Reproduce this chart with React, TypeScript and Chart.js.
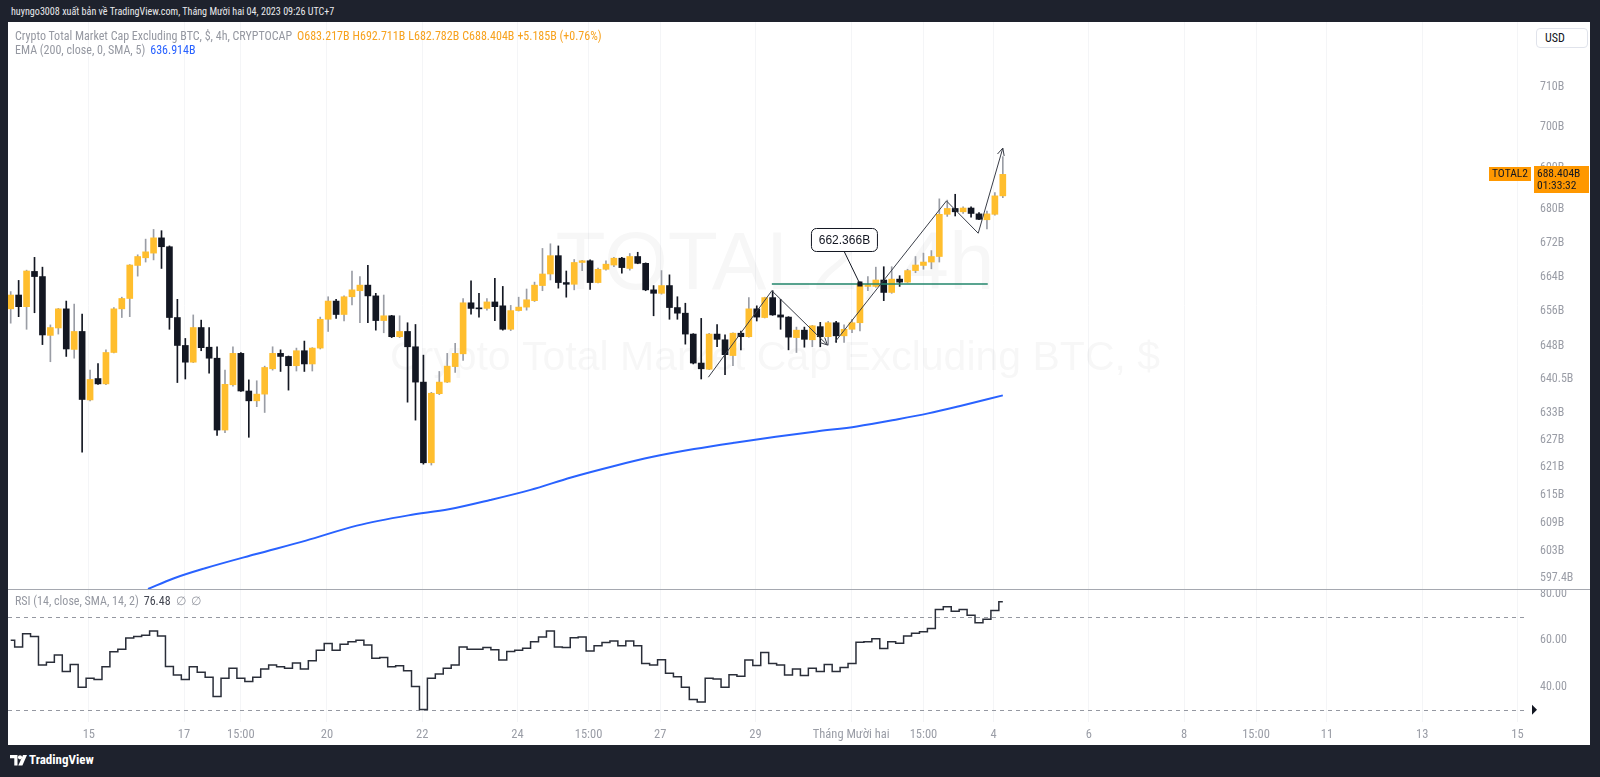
import React, { useEffect, useRef } from 'react';
import { Chart, registerables } from 'chart.js';
Chart.register(...registerables);

// ---------- DATA (4h candles, billions USD) ----------
const opens = [
  656.6, 659.8, 657.1, 665.3, 664.1, 650.5, 652.2, 656.6, 647.3, 651.4,
  635.9, 640.7, 639.5, 646.6, 656.6, 659.0, 666.7, 668.5, 669.6, 673.2,
  671.1, 654.6, 648.2, 644.4, 652.3, 647.8, 645.3, 629.2, 639.3, 646.4,
  637.9, 635.7, 637.2, 642.9, 646.4, 645.7, 643.6, 647.0, 644.0, 647.6,
  654.2, 658.4, 655.3, 659.4, 660.8, 662.1, 659.6, 653.9, 655.0, 650.2,
  651.4, 647.9, 639.9, 622.0, 637.3, 639.9, 643.4, 646.3, 658.0, 656.8,
  656.7, 658.2, 657.3, 651.9, 656.2, 657.0, 658.5, 662.0, 664.7, 669.0,
  662.7, 662.3, 667.4, 667.8, 662.7, 665.8, 666.8, 668.4, 666.0, 668.8,
  667.2, 661.0, 660.2, 662.0, 656.9, 655.6, 650.8, 644.2, 642.8, 650.8,
  649.5, 645.9, 651.0, 650.2, 656.6, 654.6, 659.2, 655.2, 654.7, 650.0,
  651.7, 649.5, 652.5, 650.2, 653.4, 650.4, 651.9, 653.4, 661.8, 661.8,
  663.3, 660.4, 663.5, 662.8, 665.5, 666.7, 667.5, 668.8, 678.8, 680.2,
  679.4, 680.3, 678.9, 677.5, 678.8, 683.217,
];
const highs = [
  660.6, 663.2, 665.6, 668.6, 666.3, 652.9, 656.7, 658.4, 657.7, 655.4,
  642.6, 644.1, 647.2, 656.9, 659.3, 666.9, 669.2, 672.9, 675.2, 674.9,
  671.3, 658.8, 649.8, 655.2, 654.0, 652.3, 647.9, 642.6, 647.9, 646.6,
  640.4, 640.2, 643.5, 647.9, 647.2, 645.8, 647.6, 649.2, 647.7, 654.7,
  659.4, 658.8, 659.6, 665.4, 664.1, 666.7, 660.2, 659.8, 655.1, 655.0,
  653.4, 653.0, 646.0, 637.6, 642.3, 646.4, 648.7, 659.0, 663.1, 660.2,
  659.0, 663.7, 661.8, 657.4, 659.3, 661.2, 662.8, 670.7, 671.8, 671.3,
  665.4, 668.1, 667.9, 668.0, 666.1, 667.8, 668.6, 668.6, 669.5, 669.8,
  667.3, 662.0, 665.5, 664.5, 659.4, 657.9, 650.9, 654.4, 651.0, 653.0,
  650.6, 651.1, 651.5, 659.2, 657.3, 659.3, 660.8, 658.8, 654.8, 652.4,
  652.4, 652.8, 653.5, 653.7, 653.7, 652.9, 654.2, 662.9, 664.1, 666.3,
  666.4, 666.4, 664.3, 665.8, 668.8, 669.6, 670.2, 682.5, 682.2, 683.6,
  680.6, 680.6, 679.2, 679.6, 684.0, 692.711,
];
const lows = [
  653.3, 654.8, 651.9, 655.7, 648.4, 644.5, 650.8, 645.7, 645.3, 624.3,
  635.7, 639.4, 639.3, 646.5, 654.6, 654.8, 664.2, 667.5, 668.0, 666.0,
  651.9, 639.8, 640.6, 644.3, 647.0, 641.9, 628.0, 628.6, 639.0, 637.8,
  627.6, 634.4, 633.1, 642.6, 642.3, 638.1, 642.4, 642.3, 642.4, 647.4,
  651.4, 654.4, 653.8, 657.5, 653.4, 653.4, 651.7, 651.1, 650.0, 650.0,
  635.4, 631.4, 621.7, 621.5, 637.1, 639.8, 642.1, 644.8, 655.4, 654.7,
  656.3, 653.9, 651.7, 651.6, 656.1, 656.3, 658.3, 660.8, 663.3, 661.4,
  659.3, 661.0, 665.5, 661.1, 662.6, 665.6, 666.4, 664.9, 665.6, 667.1,
  660.8, 655.0, 660.0, 654.2, 654.2, 648.5, 644.0, 640.6, 642.7, 647.9,
  641.6, 643.6, 647.2, 650.1, 653.8, 654.5, 655.1, 651.9, 647.2, 646.6,
  647.8, 647.9, 647.9, 648.3, 648.9, 648.9, 651.1, 651.5, 660.8, 661.6,
  658.5, 660.2, 661.8, 662.7, 665.0, 665.8, 665.9, 667.5, 678.3, 678.4,
  679.0, 678.1, 677.5, 675.3, 678.6, 682.782,
];
const closes = [
  659.8, 657.1, 665.4, 664.1, 650.6, 652.3, 656.6, 647.4, 651.4, 636.0,
  640.5, 639.5, 646.6, 656.6, 659.0, 666.8, 668.8, 669.9, 673.2, 671.1,
  654.6, 648.2, 644.4, 652.3, 647.7, 645.3, 629.2, 639.4, 646.4, 637.9,
  635.7, 637.2, 643.2, 646.4, 645.7, 643.6, 647.0, 644.0, 647.6, 654.2,
  658.4, 655.3, 659.4, 661.0, 662.1, 659.6, 653.9, 655.0, 650.2, 651.4,
  647.9, 639.9, 622.0, 637.4, 639.9, 643.5, 646.4, 658.0, 656.7, 656.6,
  658.2, 657.1, 651.9, 656.2, 657.0, 658.7, 662.1, 664.7, 669.0, 662.7,
  662.3, 667.4, 667.8, 662.7, 665.8, 667.0, 668.4, 666.2, 668.8, 667.2,
  661.0, 660.2, 662.0, 656.9, 655.6, 650.8, 644.2, 642.9, 650.8, 649.6,
  646.1, 651.0, 650.2, 656.6, 654.7, 659.2, 655.2, 654.7, 650.1, 651.7,
  649.6, 652.7, 650.2, 653.4, 650.4, 651.9, 653.4, 662.4, 662.2, 663.3,
  660.4, 663.5, 662.8, 665.5, 666.8, 667.5, 668.8, 678.8, 680.2, 679.4,
  680.3, 679.0, 677.6, 678.9, 683.219, 688.404,
];
const rsiValues = [
  59.9, 57.0, 62.7, 61.5, 49.2, 50.4, 53.5, 46.4, 49.5, 39.7,
  43.5, 43.0, 48.5, 54.9, 56.0, 60.9, 61.5, 62.0, 63.9, 61.7,
  48.6, 44.9, 43.0, 48.5, 46.1, 44.0, 35.7, 43.5, 47.8, 43.5,
  42.1, 44.0, 47.5, 49.2, 48.5, 47.8, 50.1, 47.5, 51.1, 55.6,
  58.5, 55.6, 58.2, 59.2, 59.9, 57.8, 52.2, 52.5, 48.5, 48.9,
  46.8, 40.0, 30.1, 43.5, 45.4, 47.8, 49.2, 57.0, 56.0, 56.0,
  56.8, 55.8, 51.4, 55.1, 55.6, 56.5, 59.3, 61.3, 63.9, 57.0,
  56.8, 61.0, 61.3, 55.3, 57.5, 58.9, 59.6, 57.5, 59.6, 57.5,
  49.9, 49.2, 51.5, 45.7, 44.2, 39.7, 34.4, 33.3, 43.5, 43.2,
  39.7, 45.1, 44.4, 51.4, 49.0, 54.6, 49.9, 49.2, 44.9, 47.5,
  44.7, 47.8, 46.4, 49.5, 46.4, 48.2, 49.9, 59.0, 59.2, 60.5,
  56.3, 59.3, 58.6, 61.7, 62.9, 63.6, 64.9, 73.1, 74.3, 72.4,
  73.1, 70.7, 67.4, 68.9, 72.7, 76.48,
];
// EMA(200) read at selected candle positions
const emaIndex = [17.3, 20.5, 24.4, 30.8, 37.2, 43.6, 50.1, 55.2, 60.4, 65.5, 70.6, 75.8, 80.9, 86.1, 91.2, 96.4, 101.5, 106.6, 111.8, 115.6, 119.5, 125];
const emaValues = [595.0, 597.2, 599.3, 602.3, 605.2, 608.4, 610.6, 611.9, 613.9, 616.1, 618.8, 621.2, 623.3, 625.0, 626.4, 627.7, 628.9, 630.0, 631.6, 632.9, 634.5, 636.914];

const priceTicks = [710, 700, 690, 680, 672, 664, 656, 648, 640.5, 633, 627, 621, 615, 609, 603, 597.4];
const rsiTicks = [80, 60, 40];
const rsiLevels = [70, 30];
const timeTickPos = [9.84, 21.84, 29.0, 39.84, 51.84, 63.84, 72.8, 81.84, 93.84, 105.9, 115.0, 123.84, 135.84, 147.84, 156.9, 165.84, 177.84, 189.84];
const timeTickLabels = ['15', '17', '15:00', '20', '22', '24', '15:00', '27', '29', 'Tháng Mười hai', '15:00', '4', '6', '8', '15:00', '11', '13', '15'];

// drawings
const zig1Idx = [87.9, 95.9, 102.9];
const zig1Val = [641.0, 660.8, 648.3];
const zig2Idx = [103.9, 117.9, 121.9, 125.0];
const zig2Val = [649.1, 682.0, 674.3, 694.8];
const levelIdx = [95.9, 123.1];
const levelValue = 662.366;
const calloutIdx = 107;
const calloutValue = 662.366;

const symbolName = 'TOTAL2';
const countdown = '01:33:32';

// ---------- STYLE ----------
const NARROW = '"Liberation Sans Narrow", "Arial Narrow", "Roboto Condensed", "Liberation Sans", Arial, sans-serif';
const SANS = '"Liberation Sans", Arial, sans-serif';
const UP = '#ffbe2e';
const DOWN = '#131722';
const WICK_UP = '#9a9da5';
const WICK_DOWN = '#131722';
const AXIS_TXT = '#9a9da6';
const DARK_BG = '#1e222d';
const X_MIN = -0.34;
const X_MAX = 191.17;
const P_MIN = 594.99;
const P_MAX = 726.3;
const R_MIN = 24.73;
const R_MAX = 81.94;

const fmt3 = (v: number) => v.toFixed(3) + 'B';

function zeroPad(s: any) {
  s.paddingTop = 0; s.paddingBottom = 0; s.paddingLeft = 0; s.paddingRight = 0;
}

function arrowHead(ctx: CanvasRenderingContext2D, x0: number, y0: number, x1: number, y1: number) {
  const a = Math.atan2(y1 - y0, x1 - x0);
  const L = 8;
  ctx.beginPath();
  ctx.moveTo(x1 - L * Math.cos(a - 0.45), y1 - L * Math.sin(a - 0.45));
  ctx.lineTo(x1, y1);
  ctx.lineTo(x1 - L * Math.cos(a + 0.45), y1 - L * Math.sin(a + 0.45));
  ctx.stroke();
}

const pricePlugin = {
  id: 'tvPrice',
  beforeDatasetsDraw(chart: any) {
    const { ctx, chartArea } = chart;
    const cx = (chartArea.left + chartArea.right) / 2 + 7;
    ctx.save();
    ctx.fillStyle = 'rgba(19,23,34,0.035)';
    ctx.textAlign = 'center';
    ctx.textBaseline = 'middle';
    ctx.font = '82px ' + SANS;
    ctx.fillText(symbolName + ', 4h', cx, 244);
    ctx.font = '41px ' + SANS;
    ctx.fillText('Crypto Total Market Cap Excluding BTC, $', cx, 337);
    ctx.restore();
  },
  afterDatasetsDraw(chart: any) {
    const { ctx } = chart;
    const xs = chart.scales.x;
    const ys = chart.scales.y;
    const X = (v: number) => xs.getPixelForValue(v);
    const Y = (v: number) => ys.getPixelForValue(v);
    ctx.save();
    // horizontal level
    ctx.strokeStyle = '#22866b';
    ctx.lineWidth = 1.5;
    ctx.beginPath();
    ctx.moveTo(X(levelIdx[0]), Y(levelValue));
    ctx.lineTo(X(levelIdx[1]), Y(levelValue));
    ctx.stroke();
    // zigzag paths
    ctx.strokeStyle = '#3a3e48';
    ctx.lineWidth = 1;
    [[zig1Idx, zig1Val], [zig2Idx, zig2Val]].forEach(([ix, iv]) => {
      ctx.beginPath();
      ix.forEach((v, k) => {
        const px = X(v), py = Y(iv[k]);
        if (k === 0) ctx.moveTo(px, py); else ctx.lineTo(px, py);
      });
      ctx.stroke();
      const n = ix.length;
      arrowHead(ctx, X(ix[n - 2]), Y(iv[n - 2]), X(ix[n - 1]), Y(iv[n - 1]));
    });
    // callout
    const ax = X(calloutIdx), ay = Y(calloutValue);
    const bw = 66, bh = 23;
    const bx = ax - 16 - bw / 2, by = ay - 33 - bh;
    ctx.strokeStyle = '#131722';
    ctx.lineWidth = 1;
    ctx.beginPath();
    ctx.moveTo(ax, ay);
    ctx.lineTo(ax - 16, ay - 33);
    ctx.stroke();
    ctx.fillStyle = '#131722';
    ctx.fillRect(ax - 2.5, ay - 2.5, 5, 5);
    ctx.beginPath();
    ctx.roundRect(bx + 0.5, by + 0.5, bw, bh, 5);
    ctx.fillStyle = '#ffffff';
    ctx.fill();
    ctx.stroke();
    ctx.fillStyle = '#131722';
    ctx.font = '12px ' + SANS;
    ctx.textAlign = 'center';
    ctx.textBaseline = 'middle';
    ctx.fillText(calloutValue.toFixed(3) + 'B', bx + bw / 2 + 0.5, by + bh / 2 + 1);
    ctx.restore();
  },
  afterDraw(chart: any) {
    const { ctx, chartArea } = chart;
    const ys = chart.scales.y;
    const last = closes[closes.length - 1];
    const py = Math.round(ys.getPixelForValue(last));
    ctx.save();
    ctx.fillStyle = '#ff9800';
    ctx.fillRect(chartArea.right - 39, py - 7, 42, 14);
    ctx.fillRect(chartArea.right + 6, py - 8, 55, 27);
    ctx.fillStyle = '#131722';
    ctx.font = '11.5px ' + NARROW;
    ctx.textBaseline = 'middle';
    ctx.textAlign = 'center';
    ctx.fillText(symbolName, chartArea.right - 18, py + 0.5);
    ctx.textAlign = 'left';
    ctx.fillText(fmt3(last), chartArea.right + 9, py);
    ctx.fillText(countdown, chartArea.right + 9, py + 12);
    ctx.restore();
  },
};

const rsiPlugin = {
  id: 'tvRsi',
  beforeDatasetsDraw(chart: any) {
    const { ctx, chartArea } = chart;
    const ys = chart.scales.y;
    ctx.save();
    ctx.strokeStyle = '#9598a1';
    ctx.lineWidth = 1;
    ctx.setLineDash([4, 4]);
    rsiLevels.forEach((lv) => {
      const y = Math.round(ys.getPixelForValue(lv)) + 0.5;
      ctx.beginPath();
      ctx.moveTo(chartArea.left, y);
      ctx.lineTo(chartArea.right, y);
      ctx.stroke();
    });
    ctx.setLineDash([]);
    const y30 = ys.getPixelForValue(rsiLevels[1]);
    ctx.fillStyle = '#131722';
    ctx.beginPath();
    ctx.moveTo(chartArea.right + 4, y30 - 5);
    ctx.lineTo(chartArea.right + 9, y30);
    ctx.lineTo(chartArea.right + 4, y30 + 5);
    ctx.closePath();
    ctx.fill();
    ctx.restore();
  },
};

export default function App() {
  const priceRef = useRef<HTMLCanvasElement>(null);
  const rsiRef = useRef<HTMLCanvasElement>(null);

  useEffect(() => {
    document.body.style.margin = '0';
    const idx = closes.map((_, i) => i);
    const isUp = idx.map((i) => closes[i] >= opens[i]);

    const xBase: any = {
      type: 'linear',
      min: X_MIN,
      max: X_MAX,
      offset: false,
      afterBuildTicks: (s: any) => { s.ticks = timeTickPos.map((v) => ({ value: v })); },
      grid: { color: '#f4f5f7', drawTicks: false, offset: false },
      border: { display: false },
    };

    const price = new Chart(priceRef.current as HTMLCanvasElement, {
      type: 'bar',
      data: {
        datasets: [
          {
            type: 'bar',
            label: 'wick',
            data: idx.map((i) => ({ x: i, y: [lows[i], highs[i]] })) as any,
            backgroundColor: idx.map((i) => (isUp[i] ? WICK_UP : WICK_DOWN)),
            barThickness: 1,
            grouped: false,
            order: 3,
            borderWidth: 0,
          } as any,
          {
            type: 'bar',
            label: 'body',
            data: idx.map((i) => ({ x: i, y: [Math.min(opens[i], closes[i]), Math.max(opens[i], closes[i])] })) as any,
            backgroundColor: idx.map((i) => (isUp[i] ? UP : DOWN)),
            barThickness: 6,
            grouped: false,
            minBarLength: 1,
            order: 2,
            borderWidth: 0,
          } as any,
          {
            type: 'line',
            label: 'EMA',
            data: emaIndex.map((x, k) => ({ x, y: emaValues[k] })) as any,
            borderColor: '#2962ff',
            borderWidth: 2,
            pointRadius: 0,
            cubicInterpolationMode: 'monotone',
            order: 1,
          } as any,
        ],
      },
      options: {
        responsive: false,
        animation: false,
        devicePixelRatio: 1,
        events: [],
        layout: { padding: 0 },
        plugins: { legend: { display: false }, tooltip: { enabled: false } },
        scales: {
          x: {
            ...xBase,
            ticks: { display: false },
            afterFit: (s: any) => { s.height = 0; zeroPad(s); },
          },
          y: {
            type: 'logarithmic',
            position: 'right',
            min: P_MIN,
            max: P_MAX,
            afterBuildTicks: (s: any) => { s.ticks = priceTicks.map((v) => ({ value: v })); },
            ticks: {
              callback: (v: any) => `${v}B`,
              color: AXIS_TXT,
              font: { family: NARROW, size: 12 },
              padding: 12,
              autoSkip: false,
            },
            grid: { display: false, drawTicks: false },
            border: { display: false },
            afterFit: (s: any) => { s.width = 62; zeroPad(s); },
          } as any,
        },
      } as any,
      plugins: [pricePlugin],
    });

    const rsi = new Chart(rsiRef.current as HTMLCanvasElement, {
      type: 'line',
      data: {
        datasets: [
          {
            label: 'RSI',
            data: idx.map((i) => ({ x: i, y: rsiValues[i] })) as any,
            borderColor: '#2a2e39',
            borderWidth: 1.5,
            pointRadius: 0,
            stepped: 'middle',
          } as any,
        ],
      },
      options: {
        responsive: false,
        animation: false,
        devicePixelRatio: 1,
        events: [],
        layout: { padding: 0 },
        plugins: { legend: { display: false }, tooltip: { enabled: false } },
        scales: {
          x: {
            ...xBase,
            ticks: {
              autoSkip: false,
              maxRotation: 0,
              padding: 5,
              color: AXIS_TXT,
              font: { family: NARROW, size: 12.5 },
              callback: (v: any) => {
                const k = timeTickPos.indexOf(v);
                return k >= 0 ? timeTickLabels[k] : '';
              },
            },
            afterFit: (s: any) => { s.height = 23; zeroPad(s); },
          },
          y: {
            type: 'linear',
            position: 'right',
            min: R_MIN,
            max: R_MAX,
            afterBuildTicks: (s: any) => { s.ticks = rsiTicks.map((v) => ({ value: v })); },
            ticks: {
              callback: (v: any) => Number(v).toFixed(2),
              color: AXIS_TXT,
              font: { family: NARROW, size: 12 },
              padding: 12,
              autoSkip: false,
            },
            grid: { display: false, drawTicks: false },
            border: { display: false },
            afterFit: (s: any) => { s.width = 62; zeroPad(s); },
          },
        },
      } as any,
      plugins: [rsiPlugin],
    });

    return () => {
      price.destroy();
      rsi.destroy();
    };
  }, []);

  const n = closes.length;
  const lastO = opens[n - 1], lastH = highs[n - 1], lastL = lows[n - 1], lastC = closes[n - 1];
  const chg = lastC - closes[n - 2];
  const pct = (chg / closes[n - 2]) * 100;
  const orange = '#f7a21e';
  const gray = '#9598a1';
  const txt: React.CSSProperties = { position: 'absolute', whiteSpace: 'nowrap', fontFamily: NARROW, lineHeight: '14px' };
  const gap: React.CSSProperties = { marginLeft: 3 };

  return (
    <div style={{ position: 'fixed', left: 0, top: 0, width: 1600, height: 777, background: DARK_BG, overflow: 'hidden' }}>
      <div style={{ ...txt, left: 11, top: 5, fontSize: 10.1, color: '#e8e9ec' }}>
        huyngo3008 xuất bản về TradingView.com, Tháng Mười hai 04, 2023 09:26 UTC+7
      </div>
      <div style={{ position: 'absolute', left: 8, top: 22, width: 1582, height: 723, background: '#ffffff' }} />
      <canvas ref={priceRef} width={1582} height={567} style={{ position: 'absolute', left: 8, top: 22, width: 1582, height: 567 }} />
      <canvas ref={rsiRef} width={1582} height={156} style={{ position: 'absolute', left: 8, top: 589, width: 1582, height: 156 }} />
      <div style={{ position: 'absolute', left: 8, top: 589, width: 1582, height: 1, background: '#a5a8b0' }} />
      <div style={{ ...txt, left: 15, top: 29, fontSize: 12, color: gray }}>
        <span>Crypto Total Market Cap Excluding BTC, $, 4h, CRYPTOCAP</span>
        <span style={{ marginLeft: 5, color: orange }}>O{lastO.toFixed(3)}B</span>
        <span style={{ ...gap, color: orange }}>H{lastH.toFixed(3)}B</span>
        <span style={{ ...gap, color: orange }}>L{lastL.toFixed(3)}B</span>
        <span style={{ ...gap, color: orange }}>C{lastC.toFixed(3)}B</span>
        <span style={{ ...gap, color: orange }}>+{chg.toFixed(3)}B (+{pct.toFixed(2)}%)</span>
      </div>
      <div style={{ ...txt, left: 15, top: 43, fontSize: 12, color: gray }}>
        <span>EMA (200, close, 0, SMA, 5)</span>
        <span style={{ marginLeft: 5, color: '#2962ff' }}>{emaValues[emaValues.length - 1].toFixed(3)}B</span>
      </div>
      <div style={{ ...txt, left: 15, top: 594, fontSize: 12, color: gray }}>
        <span>RSI (14, close, SMA, 14, 2)</span>
        <span style={{ marginLeft: 5, color: '#434651' }}>{rsiValues[n - 1].toFixed(2)}</span>
        <span style={{ marginLeft: 5 }}>∅</span>
        <span style={{ marginLeft: 5 }}>∅</span>
      </div>
      <div style={{ position: 'absolute', left: 1536, top: 28, width: 52, height: 20, border: '1px solid #e0e3eb', borderRadius: 4, background: '#fff', boxSizing: 'border-box', fontFamily: NARROW, fontSize: 12, color: '#131722', lineHeight: '18px', paddingLeft: 8 }}>
        USD
      </div>
      <svg style={{ position: 'absolute', left: 10, top: 755 }} width="17" height="11" viewBox="0 0 17 11">
        <path d="M0 0h7.5v10.5H4.3V3.2H0z" fill="#ffffff" />
        <circle cx="10" cy="2.3" r="2.1" fill="#ffffff" />
        <path d="M13 0h4l-4.6 10.5H8.3z" fill="#ffffff" />
      </svg>
      <div style={{ ...txt, left: 29, top: 753, fontSize: 13, fontWeight: 'bold', color: '#ffffff' }}>TradingView</div>
    </div>
  );
}
